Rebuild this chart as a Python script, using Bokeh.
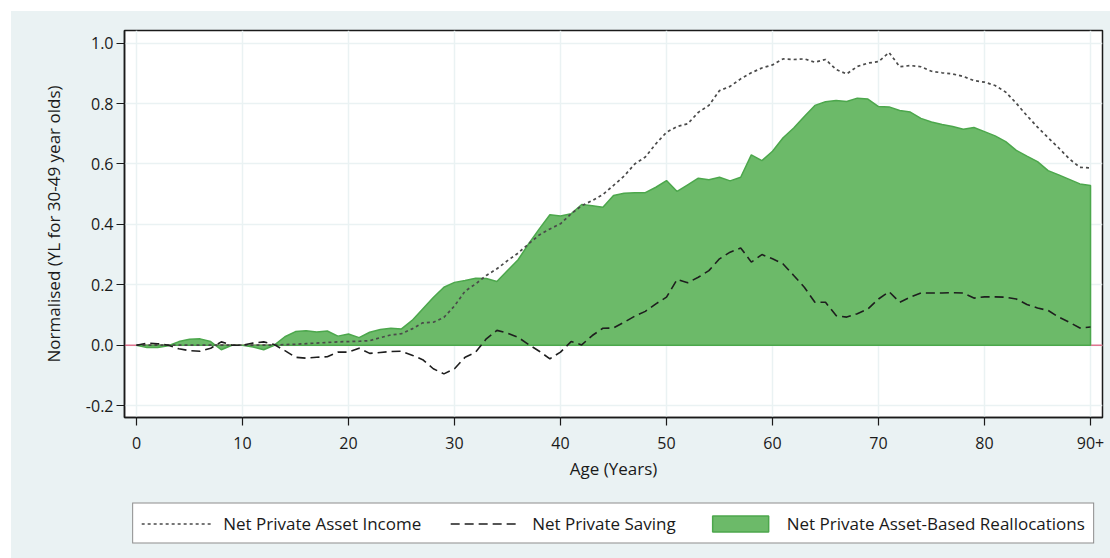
from bokeh.plotting import figure
from bokeh.layouts import column
from bokeh.models import Range1d, FixedTicker, PrintfTickFormatter, Span, Legend, LegendItem
from bokeh.embed import file_html
from bokeh.resources import INLINE

ages = list(range(0, 91))

reallocations = [
    0.0, -0.008, -0.008, -0.002, 0.012, 0.02, 0.021, 0.012, -0.015, 0.0,
    0.0, -0.006, -0.015, 0.0, 0.028, 0.045, 0.048, 0.044, 0.047, 0.03,
    0.037, 0.025, 0.043, 0.052, 0.056, 0.054, 0.082, 0.12, 0.158, 0.192,
    0.208, 0.214, 0.222, 0.221, 0.211, 0.247, 0.283, 0.336, 0.385, 0.432,
    0.428, 0.435, 0.466, 0.462, 0.457, 0.496, 0.503, 0.505, 0.505, 0.523,
    0.545, 0.509, 0.531, 0.553, 0.548, 0.556, 0.544, 0.556, 0.63, 0.611,
    0.642, 0.687, 0.719, 0.757, 0.794, 0.806, 0.81, 0.807, 0.818, 0.815,
    0.79, 0.789, 0.777, 0.772, 0.751, 0.739, 0.731, 0.724, 0.715, 0.721,
    0.707, 0.693, 0.674, 0.645, 0.626, 0.608, 0.578, 0.564, 0.549, 0.534,
    0.529,
]

asset_income = [
    0.0, 0.0, 0.0, 0.0, 0.0, 0.0, 0.0, 0.0, 0.0, 0.0,
    0.0, 0.0, 0.0, 0.0, 0.002, 0.003, 0.005, 0.007, 0.009, 0.011,
    0.012, 0.013, 0.015, 0.025, 0.034, 0.038, 0.054, 0.074, 0.076, 0.092,
    0.13, 0.179, 0.203, 0.231, 0.253, 0.28, 0.305, 0.336, 0.365, 0.385,
    0.402, 0.435, 0.462, 0.479, 0.499, 0.529, 0.56, 0.6, 0.623, 0.667,
    0.705, 0.724, 0.733, 0.771, 0.794, 0.843, 0.857, 0.882, 0.902, 0.918,
    0.928, 0.948, 0.946, 0.948, 0.937, 0.946, 0.913, 0.898, 0.923, 0.934,
    0.939, 0.969, 0.922, 0.926, 0.922, 0.907, 0.902, 0.898, 0.89, 0.876,
    0.871, 0.86, 0.838, 0.801, 0.76, 0.722, 0.687, 0.653, 0.617, 0.589,
    0.587,
]

saving = [
    0.0, 0.007, 0.005, 0.0, -0.012, -0.018, -0.02, -0.01, 0.011, 0.0,
    0.0, 0.007, 0.011, 0.002, -0.018, -0.04, -0.043, -0.04, -0.038, -0.023,
    -0.023, -0.01, -0.027, -0.024, -0.021, -0.02, -0.033, -0.048, -0.078, -0.095,
    -0.078, -0.04, -0.023, 0.021, 0.049, 0.04, 0.026, 0.002, -0.02, -0.045,
    -0.023, 0.012, 0.001, 0.032, 0.056, 0.057, 0.076, 0.096, 0.112, 0.137,
    0.159, 0.218, 0.207, 0.225, 0.247, 0.286, 0.308, 0.322, 0.275, 0.3,
    0.286, 0.269, 0.231, 0.192, 0.142, 0.142, 0.098, 0.093, 0.104, 0.12,
    0.153, 0.177, 0.142, 0.159, 0.173, 0.173, 0.173, 0.174, 0.173, 0.156,
    0.16, 0.16, 0.159, 0.153, 0.135, 0.123, 0.115, 0.093, 0.076, 0.057,
    0.06,
]

x_ticks = [0, 10, 20, 30, 40, 50, 60, 70, 80, 90]
x_tick_labels = ["0", "10", "20", "30", "40", "50", "60", "70", "80", "90+"]
y_ticks = [-0.2, 0.0, 0.2, 0.4, 0.6, 0.8, 1.0]

label_income = "Net Private Asset Income"
label_saving = "Net Private Saving"
label_realloc = "Net Private Asset-Based Reallocations"
x_title = "Age (Years)"
y_title = "Normalised (YL for 30-49 year olds)"

BG = "#EAF2F3"
FONT = "Open Sans"
GREEN_FILL = "#6CBA69"
GREEN_LINE = "#4CA74C"
INC_COLOR = "#4a4a4a"
SAV_COLOR = "#1e1e1e"

fig = figure(width=1099, height=481, output_backend="svg", toolbar_location=None,
             x_range=Range1d(-1.13, 91.13), y_range=Range1d(-0.2394, 1.042),
             min_border_left=113, min_border_right=8, min_border_top=19, min_border_bottom=75,
             background_fill_color="white", border_fill_color=BG)
fig.outline_line_color = "#1a1a1a"
fig.outline_line_width = 1.5

zero = Span(location=0, dimension="width", line_color="#e07590", line_width=1.5, level="underlay")
fig.add_layout(zero)

patch_x = ages + ages[::-1]
patch_y = reallocations + [0.0] * len(ages)
fig.patch(patch_x, patch_y, fill_color=GREEN_FILL, line_color=GREEN_LINE, line_width=1.5)
fig.line(ages, asset_income, line_color=INC_COLOR, line_width=1.7, line_dash="3 3")
fig.line(ages, saving, line_color=SAV_COLOR, line_width=1.6, line_dash="9 5")

for ax in (fig.xaxis[0], fig.yaxis[0]):
    ax.axis_line_color = "#1a1a1a"
    ax.axis_line_width = 1.5
    ax.major_tick_line_color = "#1a1a1a"
    ax.major_tick_line_width = 1.2
    ax.major_tick_out = 8
    ax.major_tick_in = 0
    ax.minor_tick_out = 0
    ax.minor_tick_in = 0
    ax.major_label_text_font = FONT
    ax.major_label_text_font_size = "16px"
    ax.major_label_text_color = "#1a1a1a"
    ax.axis_label_text_font = FONT
    ax.axis_label_text_font_size = "17px"
    ax.axis_label_text_font_style = "normal"
    ax.axis_label_text_color = "#1a1a1a"

fig.xaxis[0].ticker = FixedTicker(ticks=x_ticks)
fig.xaxis[0].major_label_overrides = {t: l for t, l in zip(x_ticks, x_tick_labels)}
fig.xaxis[0].axis_label = x_title
fig.xaxis[0].major_label_standoff = 11
fig.xaxis[0].axis_label_standoff = 5

fig.yaxis[0].ticker = FixedTicker(ticks=y_ticks)
fig.yaxis[0].formatter = PrintfTickFormatter(format="%.1f")
fig.yaxis[0].axis_label = y_title
fig.yaxis[0].major_label_standoff = 3
fig.yaxis[0].axis_label_standoff = 18

fig.xgrid.ticker = FixedTicker(ticks=x_ticks)
fig.ygrid.ticker = FixedTicker(ticks=y_ticks)
for g in (fig.xgrid[0], fig.ygrid[0]):
    g.grid_line_color = BG
    g.grid_line_width = 1.5

# legend strip below the chart (its data lies outside this strip's ranges,
# so only the legend keys show)
leg_fig = figure(width=1099, height=66, output_backend="svg", toolbar_location=None,
                 x_range=Range1d(1000, 1001), y_range=Range1d(1000, 1001),
                 x_axis_location=None, y_axis_location=None,
                 min_border_left=113, min_border_right=8, min_border_top=0, min_border_bottom=4,
                 background_fill_color=BG, border_fill_color=BG)
leg_fig.outline_line_color = None
leg_fig.grid.visible = False

k_inc = leg_fig.line(ages, asset_income, line_color=INC_COLOR, line_width=1.7, line_dash="3 3")
k_sav = leg_fig.line(ages, saving, line_color=SAV_COLOR, line_width=1.6, line_dash="9 5")
k_area = leg_fig.patch(patch_x, patch_y, fill_color=GREEN_FILL, line_color=GREEN_LINE, line_width=1.5)

legend = Legend(items=[
    LegendItem(label=label_income, renderers=[k_inc]),
    LegendItem(label=label_saving, renderers=[k_sav]),
    LegendItem(label=label_realloc, renderers=[k_area]),
], orientation="horizontal", location="center")
legend.border_line_color = "#1a1a1a"
legend.border_line_width = 1.2
legend.background_fill_color = "white"
legend.background_fill_alpha = 1.0
legend.padding = 8
legend.spacing = 29
legend.glyph_width = 70
legend.glyph_height = 20
legend.label_height = 20
legend.label_standoff = 12
legend.label_text_font = FONT
legend.label_text_font_size = "17px"
legend.label_text_color = "#1a1a1a"
legend.margin = 0
leg_fig.add_layout(legend, "center")

p = column(fig, leg_fig, spacing=0, margin=(11, 0, 0, 11),
           styles={"background-color": BG})

open("out.html", "w").write(file_html(p, INLINE))
